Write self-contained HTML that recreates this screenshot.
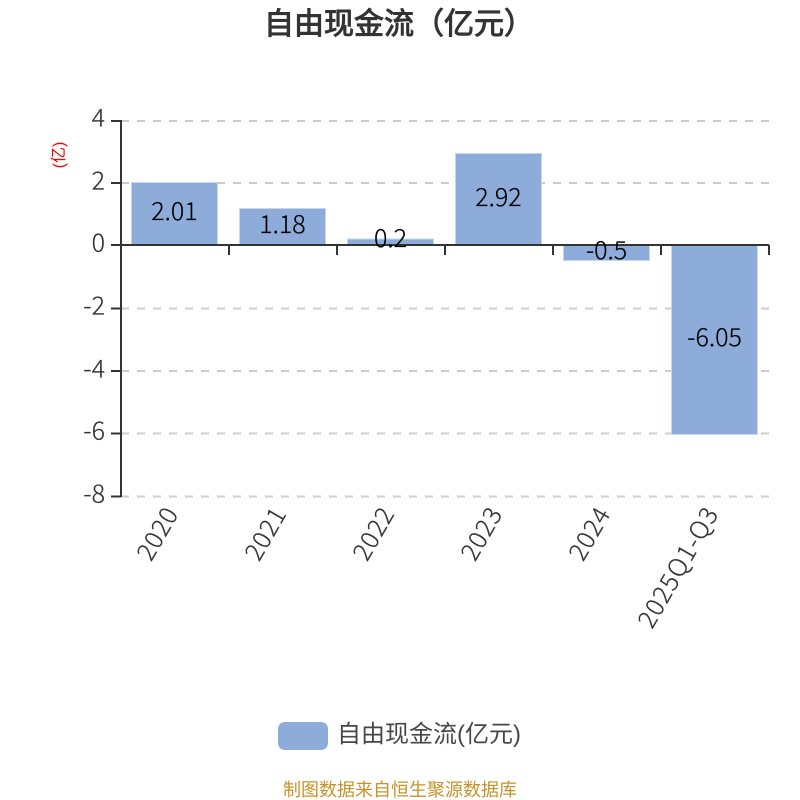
<!DOCTYPE html>
<html><head><meta charset="utf-8">
<style>
html,body{margin:0;padding:0;background:#fff;width:800px;height:800px;overflow:hidden}
svg{display:block}
text{font-family:sans-serif}
.n{font-family:"Noto Sans CJK SC",sans-serif;font-weight:300;stroke:currentColor;stroke-width:.2}
</style></head><body>
<svg width="800" height="800" viewBox="0 0 800 800" xmlns="http://www.w3.org/2000/svg">
<rect width="800" height="800" fill="#fff"/>
<text x="399" y="34" text-anchor="middle" font-size="30" font-weight="700" fill="#333">自由现金流（亿元）</text>
<g stroke="#ccc" stroke-width="2" stroke-dasharray="8 8" fill="none">
<path d="M121 121H769"/><path d="M121 183H769"/><path d="M121 308.500H769"/><path d="M121 371H769"/><path d="M121 433.500H769"/><path d="M121 496.500H769"/>
</g>
<g fill="#8dacd9" stroke="#c5d8f0" stroke-width="1">
<rect x="131.500" y="182.500" width="86" height="62.500"/>
<rect x="239.500" y="208.500" width="86" height="36.500"/>
<rect x="347.500" y="239" width="86" height="6"/>
<rect x="455.500" y="153.500" width="86" height="91.500"/>
<rect x="563.500" y="245" width="86" height="15.500"/>
<rect x="671.500" y="245" width="86" height="189.500"/>
</g>
<g stroke="#333" stroke-width="2" fill="none">
<path d="M121 120V497"/>
<path d="M111 121H121M111 183H121M111 245H121M111 308.500H121M111 371H121M111 433.500H121M111 496.500H121"/>
<path d="M121 245H769"/>
<path d="M229 245V255M337 245V255M445 245V255M553 245V255M661 245V255M769 245V255"/>
</g>
<g font-size="25" fill="#333" color="#333" text-anchor="end">
<text class="n" x="105" y="126.500">4</text>
<text class="n" x="105" y="189.500">2</text>
<text class="n" x="105" y="251.500">0</text>
<text class="n" x="105" y="314.500">-2</text>
<text class="n" x="105" y="377.500">-4</text>
<text class="n" x="105" y="439.500">-6</text>
<text class="n" x="105" y="502.500">-8</text>
</g>
<text transform="translate(64,155) rotate(-90)" font-size="16" fill="#f00" text-anchor="middle">(亿)</text>
<g font-size="25" fill="#000" color="#000" text-anchor="middle">
<text class="n" x="174.500" y="220">2.01</text>
<text class="n" x="282.500" y="233">1.18</text>
<text class="n" x="390.500" y="247">0.2</text>
<text class="n" x="498.500" y="206">2.92</text>
<text class="n" x="606.500" y="259">-0.5</text>
<text class="n" x="714.500" y="346">-6.05</text>
</g>
<g font-size="25" fill="#333" color="#333" text-anchor="end">
<text class="n" transform="translate(179,514) rotate(-60)" textLength="56" lengthAdjust="spacing">2020</text>
<text class="n" transform="translate(287,514) rotate(-60)" textLength="56" lengthAdjust="spacing">2021</text>
<text class="n" transform="translate(395,514) rotate(-60)" textLength="56" lengthAdjust="spacing">2022</text>
<text class="n" transform="translate(503,514) rotate(-60)" textLength="56" lengthAdjust="spacing">2023</text>
<text class="n" transform="translate(611,514) rotate(-60)" textLength="56" lengthAdjust="spacing">2024</text>
<text class="n" transform="translate(719,514) rotate(-60)" textLength="134" lengthAdjust="spacing">2025Q1-Q3</text>
</g>
<rect x="278" y="722" width="50" height="28" rx="7" ry="7" fill="#8dacd9"/>
<text x="337" y="742" font-size="24" fill="#333" opacity="0.9">自由现金流(亿元)</text>
<text x="400" y="796" font-size="18" fill="#c8922a" text-anchor="middle">制图数据来自恒生聚源数据库</text>
</svg>
</body></html>
